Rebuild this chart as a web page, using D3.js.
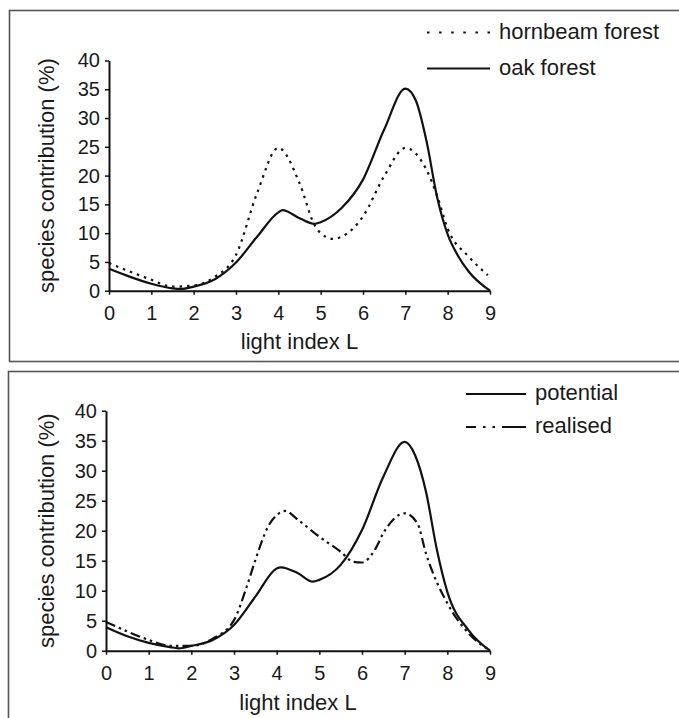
<!DOCTYPE html>
<html>
<head>
<meta charset="utf-8">
<script src="https://cdn.jsdelivr.net/npm/d3@7"></script>
<style>
  body { margin: 0; background: #fff; }
  text { font-family: "Liberation Sans", Arial, sans-serif; fill: #1a1a1a; }
</style>
</head>
<body>
<div id="chart-area"></div>
<script>
// light index L
let xTicks = [0, 1, 2, 3, 4, 5, 6, 7, 8, 9]
let yTicks = [0, 5, 10, 15, 20, 25, 30, 35, 40]

// top panel
let oakX = [0, 0.5, 1, 1.5, 1.7, 2, 2.5, 3, 3.5, 4, 4.1, 4.5, 4.85, 5, 5.5, 6, 6.5, 7, 7.25, 7.5, 7.75, 8, 8.25, 8.5, 9]
let oakY = [3.8, 2.4, 1.2, 0.4, 0.3, 0.7, 2.0, 4.9, 9.4, 13.6, 14.0, 12.6, 11.6, 11.9, 14.4, 19.3, 28, 35.1, 33, 26, 16.3, 9.8, 6.0, 3.3, 0]
let hornbeamX = [0, 0.5, 1, 1.5, 2, 2.5, 3, 3.5, 4, 4.5, 4.85, 5, 5.3, 5.5, 6, 6.5, 7, 7.5, 7.75, 8, 8.5, 8.95]
let hornbeamY = [4.8, 3.3, 1.9, 0.7, 0.9, 2.4, 6.2, 17, 24.8, 18.7, 11.5, 10, 9.0, 9.4, 12.9, 19.9, 24.8, 21, 16.5, 10.8, 5.9, 2.7]

// bottom panel
let potentialX = [0, 0.5, 1, 1.5, 1.7, 2, 2.5, 3, 3.5, 4, 4.1, 4.5, 4.85, 5, 5.5, 6, 6.5, 7, 7.25, 7.5, 7.75, 8, 8.5, 9]
let potentialY = [3.9, 2.4, 1.3, 0.6, 0.4, 0.8, 1.8, 4.3, 9.0, 13.7, 13.9, 12.9, 11.5, 11.8, 14.3, 20.1, 29, 34.8, 32.5, 26.5, 17, 9.8, 3.4, 0]
let realisedX = [0, 0.5, 1, 1.5, 2, 2.5, 3, 3.3, 3.5, 3.8, 4, 4.2, 4.5, 5, 5.5, 5.8, 6, 6.3, 6.5, 7, 7.3, 7.5, 8, 8.5, 9]
let realisedY = [4.8, 3.2, 1.8, 0.8, 0.8, 2.0, 5.1, 10.7, 15.1, 20.7, 22.6, 23.3, 21.8, 19, 16.5, 14.8, 14.7, 16.8, 19.6, 22.9, 21.2, 16.2, 7.9, 2.9, 0]

let width = 679
let height = 718

let svg = d3.select('#chart-area').append('svg')
	.attr('width', width)
	.attr('height', height)

// panel frames
svg.append('rect')
	.attr('x', 9.5).attr('y', 10.5)
	.attr('width', 700).attr('height', 351)
	.attr('fill', 'none').attr('stroke', '#555').attr('stroke-width', 1.6)
svg.append('rect')
	.attr('x', 8.5).attr('y', 371.5)
	.attr('width', 700).attr('height', 400)
	.attr('fill', 'none').attr('stroke', '#555').attr('stroke-width', 1.6)

const drawPanel = (panel) => {
	let x = d3.scaleLinear().domain([0, 9]).range(panel.xRange)
	let y = d3.scaleLinear().domain([0, 40]).range(panel.yRange)

	let g = svg.append('g')

	g.append('g')
		.attr('transform', 'translate(0, ' + panel.yRange[0] + ')')
		.call(d3.axisBottom(x).tickValues(xTicks).tickSize(4).tickSizeOuter(0).tickPadding(panel.xPad))
	g.append('g')
		.attr('transform', 'translate(' + panel.xRange[0] + ', 0)')
		.call(d3.axisLeft(y).tickValues(yTicks).tickSize(4).tickSizeOuter(0).tickPadding(5))

	g.selectAll('.domain').attr('stroke', '#111').attr('stroke-width', 2)
	g.selectAll('.tick line').attr('stroke', '#111').attr('stroke-width', 1.5)
	g.selectAll('.tick text').attr('font-size', 20).attr('fill', '#1a1a1a')

	g.append('text')
		.attr('x', (panel.xRange[0] + panel.xRange[1]) / 2)
		.attr('y', panel.xTitleY)
		.attr('text-anchor', 'middle')
		.attr('font-size', 22)
		.text('light index L')

	g.append('text')
		.attr('transform', 'translate(54, ' + (panel.yRange[0] + panel.yRange[1]) / 2 + ') rotate(-90)')
		.attr('text-anchor', 'middle')
		.attr('font-size', 22)
		.text('species contribution (%)')

	let line = d3.line()
		.x(d => x(d[0]))
		.y(d => y(d[1]))
		.curve(d3.curveMonotoneX)

	panel.series.forEach(s => {
		g.append('path')
			.datum(d3.zip(s.xs, s.ys))
			.attr('d', line)
			.attr('fill', 'none')
			.attr('stroke', '#111')
			.attr('stroke-width', 2.2)
			.attr('stroke-dasharray', s.dash)

		// legend key
		g.append('line')
			.attr('x1', panel.legendX[0]).attr('x2', panel.legendX[1])
			.attr('y1', s.legendY).attr('y2', s.legendY)
			.attr('stroke', '#111')
			.attr('stroke-width', 2.2)
			.attr('stroke-dasharray', s.legendDash)
		g.append('text')
			.attr('x', panel.legendX[1] + 9)
			.attr('y', s.legendY + 6)
			.attr('font-size', 22)
			.text(s.name)
	})
}

drawPanel({
	xRange: [109, 490],
	yRange: [290.7, 60.5],
	xPad: 11,
	xTitleY: 349,
	legendX: [427, 490],
	series: [
		{ name: 'hornbeam forest', xs: hornbeamX, ys: hornbeamY, dash: '2.5,5', legendDash: '2.5,9.6', legendY: 32.5 },
		{ name: 'oak forest', xs: oakX, ys: oakY, dash: null, legendDash: null, legendY: 68.5 }
	]
})

drawPanel({
	xRange: [106, 490],
	yRange: [650.7, 410.7],
	xPad: 11,
	xTitleY: 710,
	legendX: [466, 526],
	series: [
		{ name: 'potential', xs: potentialX, ys: potentialY, dash: null, legendDash: null, legendY: 394 },
		{ name: 'realised', xs: realisedX, ys: realisedY, dash: '10,4,2.5,4,2.5,4', legendDash: '10,7,2.5,7,2.5,7,24', legendY: 427 }
	]
})
</script>
</body>
</html>
